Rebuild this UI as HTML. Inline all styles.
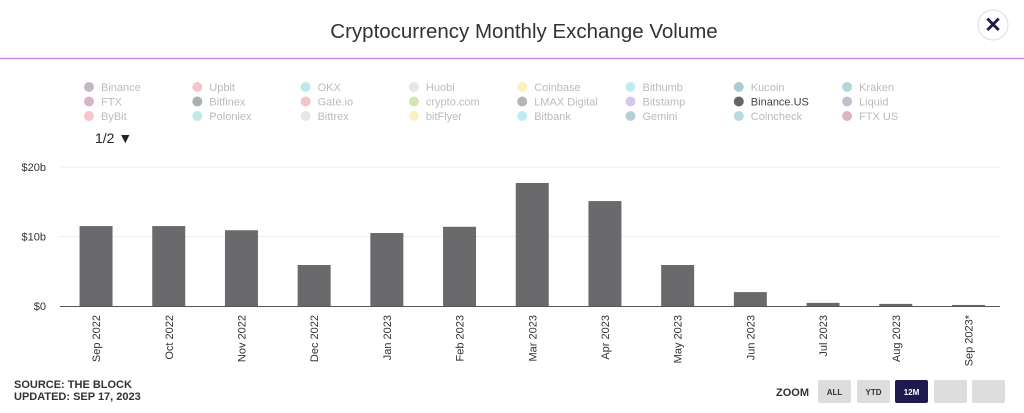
<!DOCTYPE html>
<html><head><meta charset="utf-8"><style>
html,body{margin:0;padding:0;background:#fff;width:1024px;height:413px;overflow:hidden;font-family:"Liberation Sans",sans-serif}
svg{display:block}
</style></head><body>
<svg width="1024" height="413" viewBox="0 0 1024 413">
<text x="524" y="38" text-anchor="middle" font-size="20.5" fill="#333">Cryptocurrency Monthly Exchange Volume</text>
<line x1="0" y1="58.5" x2="1024" y2="58.5" stroke="#c78be8" stroke-width="1.5"/>
<g>
<circle cx="993" cy="25" r="15" fill="#fff" stroke="#ddd"/>
<text x="993" y="32" text-anchor="middle" font-size="21" font-weight="bold" fill="#1d1b4b">✕</text>
</g>
<g id="legend"></g>
<text x="95" y="143" font-size="14" fill="#222">1/2 ▼</text>
<g id="plot"></g>
<text x="14" y="388" font-size="11" font-weight="bold" fill="#333">SOURCE: THE BLOCK</text>
<text x="14" y="400" font-size="11" font-weight="bold" fill="#333">UPDATED: SEP 17, 2023</text>
<text x="776" y="396" font-size="11" font-weight="bold" fill="#333">ZOOM</text>
<g><rect x="818" y="380" width="33" height="23" rx="2" fill="#ddd"/><text x="834.5" y="395" text-anchor="middle" font-size="8" font-weight="bold" fill="#333">ALL</text></g>
<g><rect x="857" y="380" width="33" height="23" rx="2" fill="#ddd"/><text x="873.5" y="395" text-anchor="middle" font-size="8" font-weight="bold" fill="#333">YTD</text></g>
<g><rect x="895" y="380" width="33" height="23" rx="2" fill="#1e1a4d"/><text x="911.5" y="395" text-anchor="middle" font-size="8" font-weight="bold" fill="#fff">12M</text></g>
<g><rect x="934" y="380" width="33" height="23" rx="2" fill="#ddd"/></g>
<g><rect x="972" y="380" width="33" height="23" rx="2" fill="#ddd"/></g>
</svg>
<script>
const categories=["Sep 2022","Oct 2022","Nov 2022","Dec 2022","Jan 2023","Feb 2023","Mar 2023","Apr 2023","May 2023","Jun 2023","Jul 2023","Aug 2023","Sep 2023*"];
const values=[11.5,11.5,10.9,5.9,10.5,11.4,17.7,15.1,5.9,2.0,0.45,0.3,0.15];
const yTicks=[0,10,20];
const yTickLabels=["$0","$10b","$20b"];
const legendNames=["Binance","Upbit","OKX","Huobi","Coinbase","Bithumb","Kucoin","Kraken","FTX","Bitfinex","Gate.io","crypto.com","LMAX Digital","Bitstamp","Binance.US","Liquid","ByBit","Poloniex","Bittrex","bitFlyer","Bitbank","Gemini","Coincheck","FTX US"];
const legendColors=["#c0b8c4","#f6c4cf","#bfe8ee","#e6e6ea","#fdf0c0","#bfecf2","#aacdd4","#b0d8dc","#d9b3c6","#a8b0b4","#f6c4c4","#cfe7b3","#b5b5b5","#d6c6f0","#666","#c8bcd0","#f8c4cc","#bfeae6","#e8e6ea","#fdf0c0","#bfecf2","#b4d0d4","#b8dcdc","#dcb4c6"];
const NS="http://www.w3.org/2000/svg";
const x0=59.7,band=72.7,barW=33,yBase=306,pxPer=6.95;
const xC=i=>x0+(i+0.5)*band;
const yS=v=>yBase-v*pxPer;
function mk(tag,attrs,parent){const e=document.createElementNS(NS,tag);for(const k in attrs)e.setAttribute(k,attrs[k]);parent.appendChild(e);return e;}
const plot=document.getElementById('plot');
yTicks.forEach((t,i)=>{
  if(t>0){const g=mk('line',{x1:60,x2:1000,y1:yS(t),y2:yS(t),stroke:'#eee'},plot);
  
  }
  const tx=mk('text',{x:46,y:yS(t)+4,'text-anchor':'end','font-size':11,fill:'#333'},plot);
  tx.textContent=yTickLabels[i];
  
  
});
values.forEach((v,i)=>{
  const r=mk('rect',{x:xC(i)-barW/2,y:yS(v),width:barW,height:v*pxPer,fill:'#6a6a6d'},plot);
  
  
  const t=mk('text',{transform:`translate(${xC(i)+4},315) rotate(-90)`,'text-anchor':'end','font-size':11,fill:'#333'},plot);
  t.textContent=categories[i];
  
  
});
const ax=mk('line',{x1:60,x2:1000,y1:306.5,y2:306.5,stroke:'#555'},plot);


const leg=document.getElementById('legend');
legendNames.forEach((n,i)=>{
  const col=i%8,row=Math.floor(i/8);
  const x=89+col*108.3,y=87+row*14.5;
  const g=mk('g',{},leg);
  
  
  mk('circle',{cx:x,cy:y,r:5,fill:legendColors[i]},g);
  const t=mk('text',{x:x+12,y:y+4,'font-size':11,fill:n==="Binance.US"?'#444':'#bbb'},g);
  t.textContent=n;
});
</script>
</body></html>
